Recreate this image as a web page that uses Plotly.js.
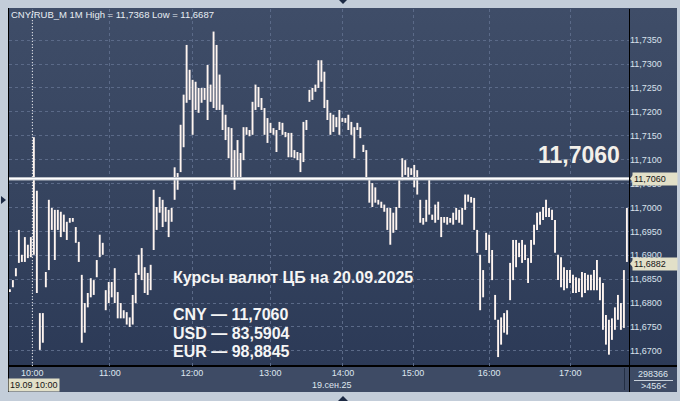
<!DOCTYPE html>
<html><head><meta charset="utf-8">
<script src="https://cdn.plot.ly/plotly-3.0.1.min.js"></script>
<style>
html,body{margin:0;padding:0;background:#c3cdd9;}
#wrap{position:relative;width:680px;height:401px;overflow:hidden;background:#c3cdd9;}
.abs{position:absolute;}
#chart{position:absolute;left:0;top:0;width:680px;height:401px;}
</style></head><body>
<div id="wrap">
 <div class="abs" style="left:8px;top:8px;width:669px;height:358px;background:linear-gradient(to bottom,#3f4d68 0%,#36445f 50%,#2c3a57 100%);"></div>
 <div class="abs" style="left:8px;top:366px;width:669px;height:26px;background:#3e4b65;"></div>
 <div class="abs" style="left:8px;top:8px;width:1px;height:384px;background:#000;"></div>
 <div class="abs" style="left:629px;top:9px;width:1px;height:383px;background:#000;"></div>
 <div class="abs" style="left:8px;top:365px;width:669px;height:2px;background:#000;"></div>
 <div class="abs" style="left:624px;top:368px;width:1px;height:22px;background:#222e44;"></div>
 <div class="abs" style="left:634px;top:380px;width:39px;height:1px;background:#c8d0da;"></div>
 <div class="abs" style="left:1px;top:196px;width:0;height:0;border-top:4px solid transparent;border-bottom:4px solid transparent;border-left:5px solid #1c2a44;"></div>
 <div class="abs" style="left:339px;top:0px;width:0;height:0;border-left:4px solid transparent;border-right:4px solid transparent;border-top:4px solid #1c2a44;"></div>
 <div class="abs" style="left:338px;top:396px;width:0;height:0;border-left:5px solid transparent;border-right:5px solid transparent;border-bottom:5px solid #1c2a44;"></div>
 <div id="chart"></div>
</div>
<script>
// ---- data (1-minute bars, CNY/RUB_M, 19.09.2025) ----
const highs = [
11.6829,11.6848,11.6873,11.6953,11.6901,11.6938,11.6922,11.6938,11.7147,11.7035,
11.6779,11.6779,11.6865,11.7016,11.6999,11.6995,11.6995,11.6991,11.6985,11.6970,
11.6978,11.6978,11.6959,11.6928,11.6859,11.6800,11.6821,11.6852,11.6848,11.6890,
11.6943,11.6926,11.6827,11.6844,11.6844,11.6873,11.6823,11.6800,11.6785,11.6781,
11.6770,11.6817,11.6863,11.6901,11.6915,11.6875,11.6863,11.6880,11.7037,11.7001,
11.7022,11.7016,11.7001,11.6995,11.6999,11.7084,11.7072,11.7173,11.7236,11.7340,
11.7288,11.7267,11.7263,11.7250,11.7250,11.7250,11.7298,11.7257,11.7368,11.7340,
11.7278,11.7215,11.7194,11.7168,11.7166,11.7120,11.7141,11.7114,11.7168,11.7168,
11.7162,11.7221,11.7257,11.7252,11.7229,11.7208,11.7187,11.7177,11.7166,11.7162,
11.7179,11.7177,11.7158,11.7156,11.7156,11.7120,11.7116,11.7114,11.7179,11.7183,
11.7246,11.7250,11.7257,11.7308,11.7308,11.7284,11.7225,11.7198,11.7194,11.7189,
11.7204,11.7187,11.7187,11.7194,11.7179,11.7168,11.7177,11.7168,11.7131,11.7120,
11.7063,11.7051,11.7042,11.7016,11.7012,11.7006,11.6999,11.6999,11.6989,11.7001,
11.7057,11.7103,11.7099,11.7084,11.7082,11.7089,11.7078,11.7016,11.6978,11.7016,
11.7063,11.6985,11.7006,11.7012,11.6980,11.6980,11.6980,11.6978,11.6989,11.6999,
11.6995,11.6999,11.7027,11.7027,11.7022,11.7020,11.6953,11.6901,11.6869,11.6947,
11.6943,11.6911,11.6817,11.6765,11.6770,11.6779,11.6785,11.6884,11.6932,11.6932,
11.6926,11.6932,11.6922,11.6894,11.6932,11.6964,11.6989,11.6991,11.7001,11.7016,
11.6999,11.6995,11.6974,11.6901,11.6896,11.6875,11.6869,11.6869,11.6859,11.6854,
11.6852,11.6865,11.6863,11.6859,11.6859,11.6869,11.6890,11.6854,11.6842,11.6775,
11.6765,11.6768,11.6791,11.6817,11.6800,11.6869,11.6999
];
const lows = [
11.6823,11.6833,11.6856,11.6884,11.6886,11.6886,11.6894,11.6896,11.6901,11.6821,
11.6702,11.6717,11.6833,11.6869,11.6953,11.6890,11.6953,11.6938,11.6949,11.6932,
11.6968,11.6970,11.6926,11.6886,11.6717,11.6738,11.6791,11.6812,11.6817,11.6854,
11.6896,11.6901,11.6785,11.6800,11.6812,11.6800,11.6768,11.6768,11.6768,11.6755,
11.6750,11.6755,11.6800,11.6859,11.6848,11.6821,11.6817,11.6827,11.6911,11.6953,
11.6989,11.6959,11.6970,11.6938,11.6970,11.7016,11.7037,11.7074,11.7126,11.7219,
11.7225,11.7152,11.7204,11.7198,11.7219,11.7225,11.7183,11.7221,11.7208,11.7204,
11.7204,11.7162,11.7141,11.7103,11.7063,11.7037,11.7063,11.7063,11.7099,11.7152,
11.7149,11.7152,11.7204,11.7210,11.7204,11.7152,11.7135,11.7156,11.7152,11.7116,
11.7162,11.7152,11.7147,11.7105,11.7105,11.7103,11.7099,11.7074,11.7095,11.7162,
11.7221,11.7225,11.7242,11.7250,11.7263,11.7208,11.7183,11.7152,11.7158,11.7168,
11.7152,11.7179,11.7177,11.7162,11.7152,11.7103,11.7162,11.7145,11.7116,11.7063,
11.7010,11.7001,11.7010,11.7006,11.6999,11.6991,11.6953,11.6922,11.6947,11.6953,
11.6999,11.7057,11.7068,11.7063,11.7068,11.7042,11.7027,11.6968,11.6964,11.6970,
11.6985,11.6974,11.6968,11.6974,11.6938,11.6968,11.6964,11.6968,11.6964,11.6974,
11.6968,11.6964,11.6995,11.7012,11.7010,11.6953,11.6905,11.6785,11.6812,11.6911,
11.6884,11.6848,11.6765,11.6687,11.6713,11.6738,11.6734,11.6806,11.6848,11.6875,
11.6896,11.6884,11.6890,11.6842,11.6884,11.6922,11.6953,11.6964,11.6974,11.6980,
11.6980,11.6974,11.6905,11.6848,11.6833,11.6827,11.6831,11.6842,11.6821,11.6821,
11.6823,11.6812,11.6821,11.6827,11.6827,11.6827,11.6827,11.6806,11.6744,11.6713,
11.6692,11.6723,11.6744,11.6765,11.6744,11.6748,11.6886
];
const hourLabels = ['10:00','11:00','12:00','13:00','14:00','15:00','16:00','17:00'];
const hourIdx = [7.5, 33.4, 60.8, 86.9, 111.2, 134.6, 160, 187.1];
const yTickVals = [11.670,11.675,11.680,11.685,11.690,11.695,11.700,11.705,11.710,11.715,11.720,11.725,11.730,11.735];
const yTickText = ['11,6700','11,6750','11,6800','11,6850','11,6900','11,6950','11,7000','11,7050','11,7100','11,7150','11,7200','11,7250','11,7300','11,7350'];
const cnyRate = 11.7060;
const lastPrice = 11.6882;
const headerText = 'CNY/RUB_M 1M High = 11,7368 Low = 11,6687';
const ratesTitle = 'Курсы валют ЦБ на 20.09.2025';
const rateLines = ['CNY — 11,7060', 'USD — 83,5904', 'EUR — 98,8845'];
const dateBox = '19.09 10:00';
const dateLabel = '19.сен.25';
const volTop = '298366';
const volBottom = '>456<';

// ---- build ----
const FONT = "'Liberation Sans', Arial, sans-serif";
const fmt = v => v.toFixed(4).replace('.', ',');
const bx = [], by = [];
highs.forEach((h, i) => { bx.push(i, i, null); by.push(lows[i], h, null); });

const trace = {
  type: 'scatter', mode: 'lines', x: bx, y: by,
  line: {color: '#fff5f0', width: 1.9}, hoverinfo: 'skip', connectgaps: false
};

const grid = {showgrid: true, gridcolor: '#5b6a88', gridwidth: 1, griddash: '3px,3px', zeroline: false, showline: false, ticks: '', fixedrange: true};
const CREAM = '#e2e0c8';
const ann = [
  {xref:'paper', yref:'paper', x:0, y:0.9832, xanchor:'left', yanchor:'middle', showarrow:false,
   text: headerText, font:{family:FONT, size:9.5, color:'#e8edf3'}},
  {xref:'paper', yref:'paper', x:0.9887, y:0.5902, xanchor:'right', yanchor:'middle', showarrow:false,
   text:'<b>' + fmt(cnyRate) + '</b>', font:{family:FONT, size:23, color:'#f3f0ea'}},
  {xref:'paper', yref:'paper', x:0.2613, y:0.2479, xanchor:'left', yanchor:'middle', showarrow:false,
   text:'<b>' + ratesTitle + '</b>', font:{family:FONT, size:16, color:'#f5f5f5'}},
  {xref:'paper', yref:'paper', x:0.2613, y:0.1443, xanchor:'left', yanchor:'middle', showarrow:false,
   text:'<b>' + rateLines[0] + '</b>', font:{family:FONT, size:16, color:'#f5f5f5'}},
  {xref:'paper', yref:'paper', x:0.2613, y:0.0902, xanchor:'left', yanchor:'middle', showarrow:false,
   text:'<b>' + rateLines[1] + '</b>', font:{family:FONT, size:16, color:'#f5f5f5'}},
  {xref:'paper', yref:'paper', x:0.2613, y:0.0406, xanchor:'left', yanchor:'middle', showarrow:false,
   text:'<b>' + rateLines[2] + '</b>', font:{family:FONT, size:16, color:'#f5f5f5'}},
  // price tags on the right scale
  {xref:'paper', yref:'y', x:1, y:cnyRate, xanchor:'left', yanchor:'middle', xshift:3, showarrow:false,
   text: fmt(cnyRate), bgcolor:CREAM, width:42, align:'left', borderpad:1, font:{family:FONT, size:9, color:'#151515'}},
  {xref:'paper', yref:'y', x:1, y:lastPrice, xanchor:'left', yanchor:'middle', xshift:3, showarrow:false,
   text: fmt(lastPrice), bgcolor:CREAM, width:42, align:'left', borderpad:1, font:{family:FONT, size:9, color:'#151515'}},
  // bottom band
  {xref:'paper', yref:'paper', x:-0.0016, y:-0.0532, xanchor:'left', yanchor:'middle', showarrow:false,
   text: dateBox, bgcolor:CREAM, borderpad:1, font:{family:FONT, size:9, color:'#151515'}},
  {xref:'paper', yref:'paper', x:0.521, y:-0.0546, xanchor:'center', yanchor:'middle', showarrow:false,
   text: dateLabel, font:{family:FONT, size:9, color:'#dfe6ef'}},
  {xref:'paper', yref:'paper', x:1.0395, y:-0.0224, xanchor:'center', yanchor:'middle', showarrow:false,
   text: volTop, font:{family:FONT, size:9, color:'#dfe6ef'}},
  {xref:'paper', yref:'paper', x:1.040, y:-0.0574, xanchor:'center', yanchor:'middle', showarrow:false,
   text: volBottom, font:{family:FONT, size:9, color:'#dfe6ef'}}
];

const tagArrow = yv => ({type:'path', xref:'paper', yref:'y', xsizemode:'pixel', ysizemode:'pixel',
  xanchor:1, yanchor:yv, path:'M 1 0 L 5 5 L 5 -5 Z', fillcolor:CREAM, line:{width:0}, layer:'above'});

const shapes = [
  {type:'line', xref:'x', yref:'paper', x0:hourIdx[0], x1:hourIdx[0], y0:0, y1:1, layer:'above',
   line:{color:'#e8e8e8', width:1, dash:'1px,2px'}},
  {type:'line', xref:'paper', yref:'y', x0:0, x1:1, y0:cnyRate, y1:cnyRate, layer:'above',
   line:{color:'#b8bdc6', width:3.6}},
  {type:'line', xref:'paper', yref:'y', x0:0, x1:1, y0:cnyRate, y1:cnyRate, layer:'above',
   line:{color:'#ffffff', width:1.4}},
  tagArrow(cnyRate),
  tagArrow(lastPrice)
];

const layout = {
  width: 680, height: 401,
  margin: {l: 9, r: 51, t: 9, b: 35, pad: 0},
  paper_bgcolor: 'rgba(0,0,0,0)', plot_bgcolor: 'rgba(0,0,0,0)',
  showlegend: false,
  xaxis: Object.assign({}, grid, {range: [-0.3, 206.7], tickmode: 'array', tickvals: hourIdx, ticktext: hourLabels,
    tickfont: {family: FONT, size: 9, color: '#dfe6ef'}}),
  yaxis: Object.assign({}, grid, {side: 'right', range: [11.66683, 11.74152], tickmode: 'array', tickvals: yTickVals, ticktext: yTickText,
    tickfont: {family: FONT, size: 9, color: '#d9e1ec'}}),
  annotations: ann,
  shapes: shapes
};

Plotly.newPlot('chart', [trace], layout, {displayModeBar: false, staticPlot: true});
</script>
</body></html>
